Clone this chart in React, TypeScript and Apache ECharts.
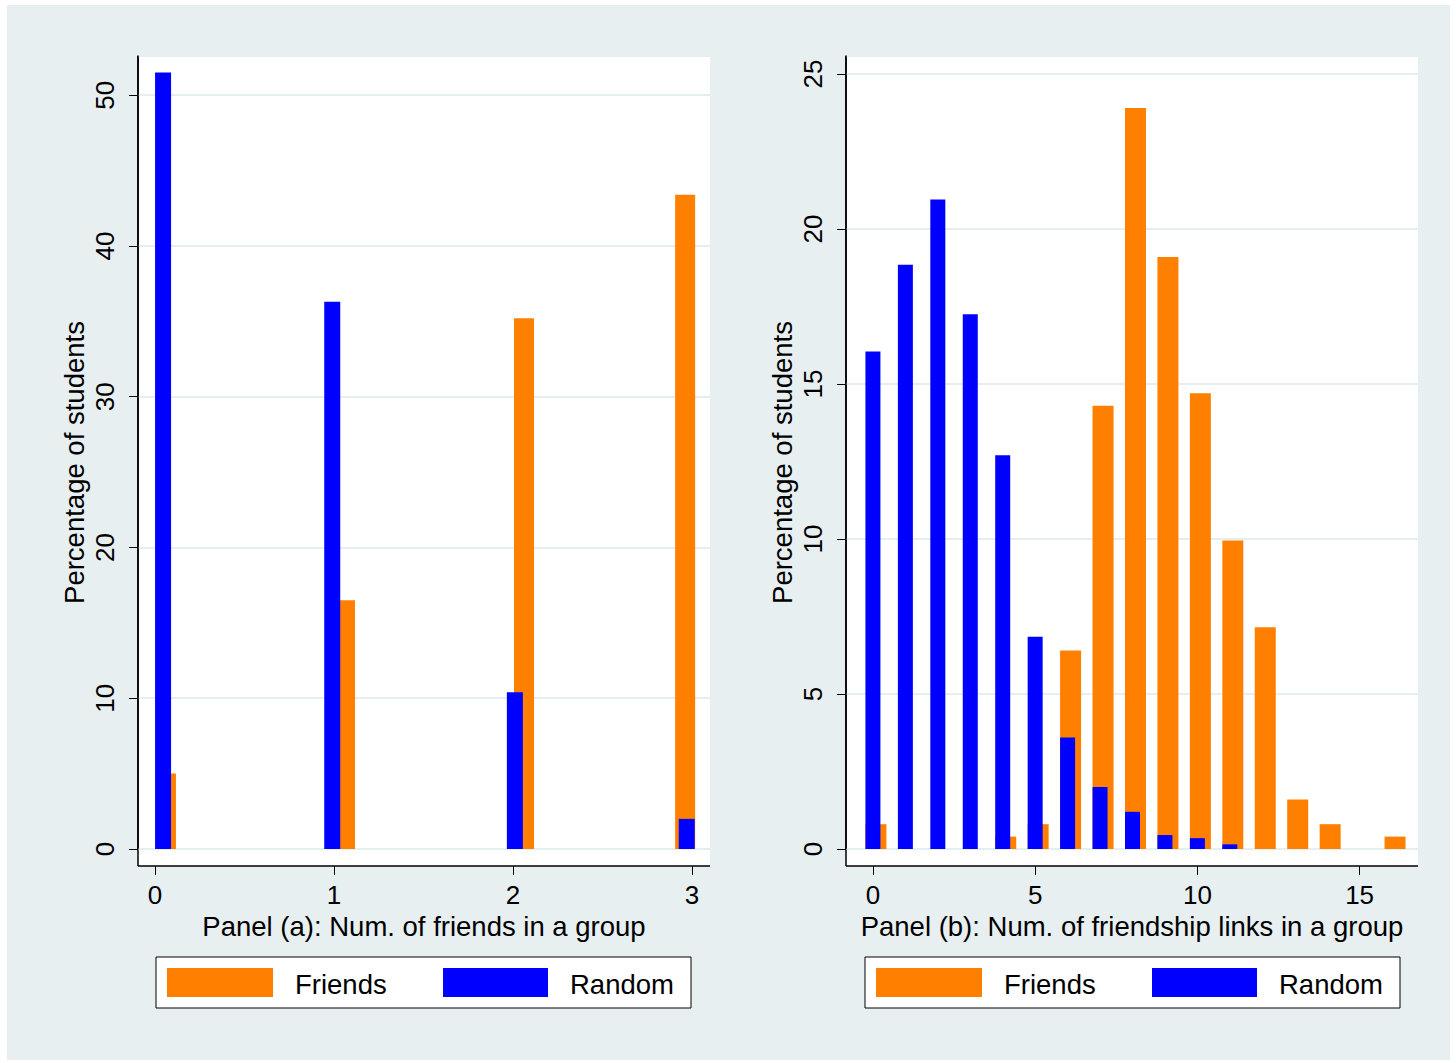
import React, { useEffect, useRef } from "react";
import * as echarts from "echarts";

const aFriendsX = [0.05, 1.05, 2.05, 2.95];
const aFriends = [5.0, 16.5, 35.2, 43.4];
const aRandomX = [0.045, 0.99, 2.01, 2.97];
const aRandom = [51.5, 36.3, 10.4, 2.0];

const bX = [0, 1, 2, 3, 4, 5, 6, 7, 8, 9, 10, 11, 12, 13, 14, 15, 16];
const bFriends = [0.8, 0, 0, 0, 0.4, 0.8, 6.4, 14.3, 23.9, 19.1, 14.7, 9.95, 7.15, 1.6, 0.8, 0, 0.4];
const bRandom = [16.05, 18.85, 20.95, 17.25, 12.7, 6.85, 3.6, 2.0, 1.2, 0.45, 0.35, 0.15, 0, 0, 0, 0, 0];

const aTicks = [0, 1, 2, 3];
const bTicks = [0, 5, 10, 15];

const ORANGE = "#ff8000";
const BLUE = "#0000ff";
const FONT = "Liberation Sans";

export default function App() {
  const ref = useRef<HTMLDivElement>(null);
  useEffect(() => {
    document.body.style.margin = "0";
    const chart = echarts.init(ref.current!, undefined, { renderer: "svg" });
    const grids = [
      { left: 138, top: 56, width: 572, height: 793 },
      { left: 846, top: 56, width: 572, height: 793 },
    ];
    const xAxisCommon = (gi: number, min: number, max: number, ticks: number[], name: string) => ({
      type: "value",
      gridIndex: gi,
      min,
      max,
      offset: 17,
      name,
      nameLocation: "middle",
      nameGap: 46,
      nameTextStyle: { fontFamily: FONT, fontSize: 27.5, color: "#000" },
      axisLine: { show: false, onZero: false },
      axisTick: { show: true, inside: false, length: 9, customValues: ticks, lineStyle: { color: "#000" } },
      axisLabel: { customValues: ticks, fontFamily: FONT, fontSize: 26, color: "#000", margin: 16 },
      splitLine: { show: false },
    });
    const yAxisCommon = (gi: number, max: number, interval: number) => ({
      type: "value",
      gridIndex: gi,
      position: "left",
      min: 0,
      max,
      interval,
      name: "Percentage of students",
      nameLocation: "middle",
      nameRotate: 90,
      nameGap: 50,
      nameTextStyle: { fontFamily: FONT, fontSize: 27.5, color: "#000", padding: [0, 20, 0, 0] },
      axisLine: { show: true, onZero: false, lineStyle: { color: "#000", width: 1.5 } },
      axisTick: { show: true, inside: false, length: 9, lineStyle: { color: "#000" } },
      axisLabel: { rotate: 90, fontFamily: FONT, fontSize: 26, color: "#000", margin: 20, showMaxLabel: false },
      splitLine: { show: true, lineStyle: { color: "#e6eff0", width: 2 } },
    });
    const bar = (xi: number, xs: number[], ys: number[], color: string, w: number, name: string) => ({
      type: "bar",
      name,
      xAxisIndex: xi,
      yAxisIndex: xi,
      barWidth: w,
      barGap: "-100%",
      data: xs.map((x, i) => [x, ys[i]]),
      itemStyle: { color, borderWidth: 0 },
    });
    const legend = (x: number) => [
      { type: "rect", shape: { x, y: 957, width: 535, height: 51 }, style: { fill: "#fff", stroke: "#000", lineWidth: 1 } },
      { type: "rect", shape: { x: x + 11, y: 968, width: 106, height: 29 }, style: { fill: ORANGE } },
      { type: "text", x: x + 139, y: 984, style: { text: "Friends", font: `27.5px ${FONT}`, fill: "#000", verticalAlign: "middle" } },
      { type: "rect", shape: { x: x + 287, y: 968, width: 105, height: 29 }, style: { fill: BLUE } },
      { type: "text", x: x + 414, y: 984, style: { text: "Random", font: `27.5px ${FONT}`, fill: "#000", verticalAlign: "middle" } },
    ];
    const frame = (l: number) => [
      { type: "rect", z: -10, shape: { x: l, y: 56, width: 572, height: 810 }, style: { fill: "#fff" } },
      { type: "line", shape: { x1: l, y1: 56, x2: l, y2: 866 }, style: { stroke: "#000", lineWidth: 1.5 } },
      { type: "line", shape: { x1: l, y1: 866, x2: l + 572, y2: 866 }, style: { stroke: "#000", lineWidth: 1.5 } },
    ];
    chart.setOption({
      animation: false,
      backgroundColor: "#fff",
      grid: grids,
      xAxis: [
        xAxisCommon(0, -0.095, 3.1, aTicks, "Panel (a): Num. of friends in a group"),
        xAxisCommon(1, -0.83, 16.8, bTicks, "Panel (b): Num. of friendship links in a group"),
      ],
      yAxis: [yAxisCommon(0, 52.6, 10), yAxisCommon(1, 25.58, 5)],
      series: [
        bar(0, aFriendsX, aFriends, ORANGE, 20, "Friends"),
        bar(0, aRandomX, aRandom, BLUE, 16, "Random"),
        bar(1, bX, bFriends, ORANGE, 21, "Friends"),
        bar(1, bX, bRandom, BLUE, 15, "Random"),
      ],
      graphic: [
        { type: "rect", z: -20, silent: true, shape: { x: 7, y: 5, width: 1443, height: 1055 }, style: { fill: "#e8eff0" } },
        ...frame(138),
        ...frame(846),
        ...legend(156),
        ...legend(865),
      ],
    });
    return () => chart.dispose();
  }, []);
  return <div ref={ref} style={{ width: 1456, height: 1063 }} />;
}
